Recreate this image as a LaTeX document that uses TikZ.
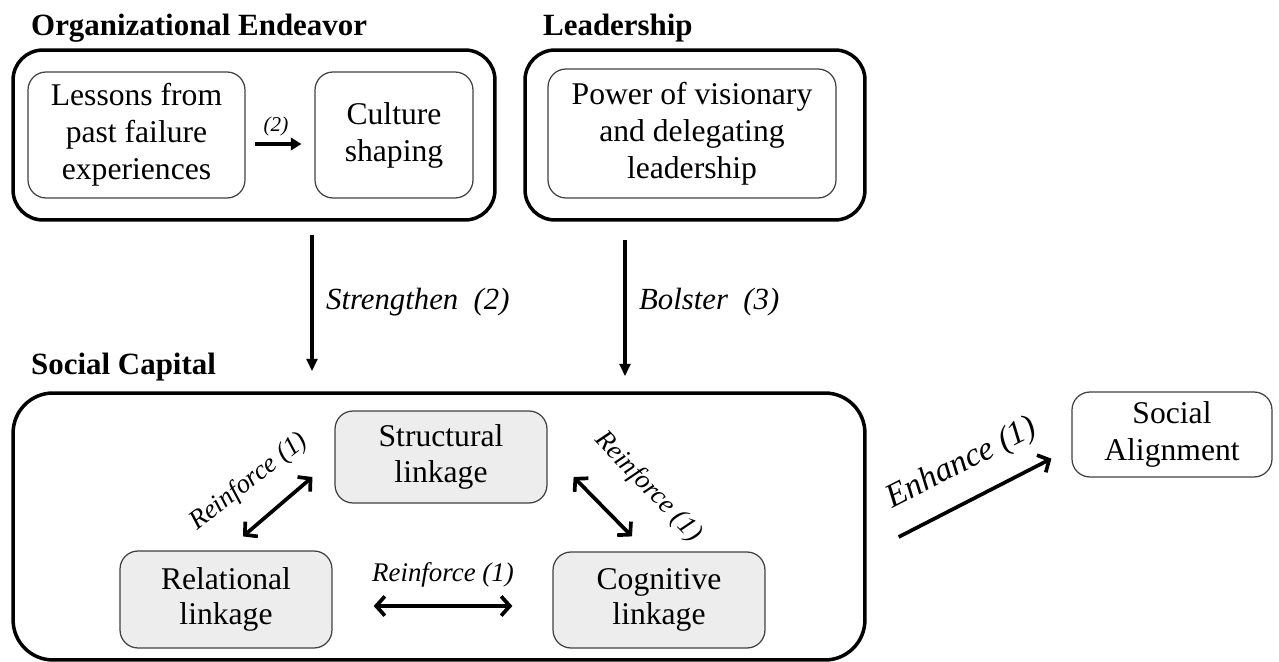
\documentclass[tikz,border=0pt]{standalone}
\usepackage{fontspec}
\setmainfont{Liberation Serif}
\usetikzlibrary{arrows.meta,calc}

\begin{document}
\begin{tikzpicture}[x=0.02cm,y=-0.02cm,
    title/.style={anchor=base west,font=\fontsize{17.6}{20}\selectfont\bfseries},
    group/.style={draw,line width=2pt,rounded corners=0.6cm,inner sep=0pt},
    item/.style={draw=black!75,line width=0.7pt,rounded corners=0.36cm,align=center,
      inner sep=0pt,font=\fontsize{18}{21}\selectfont},
    link/.style={item,fill=black!7,font=\fontsize{18}{20}\selectfont},
    flow/.style={-{Triangle[length=7pt,width=6pt]},line width=1.8pt},
    mutual/.style={{Straight Barb[length=5pt,width=11pt]}-{Straight Barb[length=5pt,width=11pt]},line width=2.1pt},
    push/.style={-{Straight Barb[length=5pt,width=11pt]},line width=2.1pt},
    tag/.style={font=\fontsize{15.3}{17}\selectfont\itshape}]
    \useasboundingbox (0,0) rectangle (1279,662);

    % --- Organizational Endeavor ---
    \node[title] (orgtitle) at (25,36) {Organizational Endeavor};
    \node[group,minimum width=9.64cm,minimum height=3.4cm] (org) at (254,135) {};
    \node[item,minimum width=4.34cm,minimum height=2.52cm] (lessons) at (136.5,135) {Lessons from\\past failure\\experiences};
    \node[item,minimum width=3.16cm,minimum height=2.52cm] (culture) at (394,135) {Culture\\shaping};
    \draw[flow,-{Triangle[length=6pt,width=7pt]}] ($(lessons.east)+(9,9)$) -- ($(culture.west)+(-13,9)$);
    \node[font=\fontsize{12}{14}\selectfont\itshape] (lbltwo) at (276,126) {(2)};

    % --- Leadership ---
    \node[title] (leadtitle) at (537,36) {Leadership};
    \node[group,minimum width=6.8cm,minimum height=3.4cm] (lead) at (695,135) {};
    \node[item,minimum width=5.76cm,minimum height=2.58cm] (power) at (692,133.5) {Power of visionary\\and delegating\\leadership};

    % --- Social Capital ---
    \node[title] (captitle) at (25,375) {Social Capital};
    \node[group,rounded corners=0.8cm,minimum width=17.04cm,minimum height=5.34cm] (cap) at (439,526.5) {};
    \node[link,minimum width=4.24cm,minimum height=1.84cm] (structural) at (441,457) {Structural\\linkage};
    \node[link,minimum width=4.24cm,minimum height=1.94cm] (relational) at (226,599.5) {Relational\\linkage};
    \node[link,minimum width=4.24cm,minimum height=1.92cm] (cognitive) at (659,600) {Cognitive\\linkage};

    % --- Social Alignment ---
    \node[item,minimum width=4cm,minimum height=1.7cm] (align) at (1172,434.5) {Social\\Alignment};

    % --- Influences on social capital ---
    \coordinate (sx) at (312,0);
    \coordinate (bx) at (625,0);
    \draw[flow] ($(org.south -| sx)+(0,13)$) -- ($(cap.north -| sx)+(0,-20)$);
    \node[tag,anchor=west,font=\fontsize{17.5}{20}\selectfont\itshape] (lblstrength) at (320,302) {Strengthen~~(2)};
    \draw[flow] ($(lead.south -| bx)+(0,18)$) -- ($(cap.north -| bx)+(0,-15)$);
    \node[tag,anchor=west,font=\fontsize{17.5}{20}\selectfont\itshape] (lblbolster) at (633,302) {Bolster~~(3)};

    % --- Links inside social capital ---
    \draw[mutual] ($(relational.north)+(17,-14)$) -- ($(structural.west)+(-22,20)$);
    \node[tag,rotate=38] (lblrs) at (249,482) {Reinforce (1)};
    \draw[mutual] ($(structural.east)+(26,20)$) -- ($(cognitive.north)+(-27,-15)$);
    \node[tag,rotate=-46] (lblsc) at (648,487) {Reinforce (1)};
    \draw[mutual] ($(relational.east)+(41,6.5)$) -- ($(cognitive.west)+(-40,6)$);
    \node[tag] (lblrc) at (443,575) {Reinforce (1)};

    % --- Outcome ---
    \draw[push] ($(cap.east)+(32,10.5)$) -- ($(align.south west)+(-20,-19)$);
    \node[tag,rotate=27,font=\fontsize{19}{22}\selectfont\itshape] (lblenhance) at (962,464) {Enhance (1)};
\end{tikzpicture}
\end{document}
